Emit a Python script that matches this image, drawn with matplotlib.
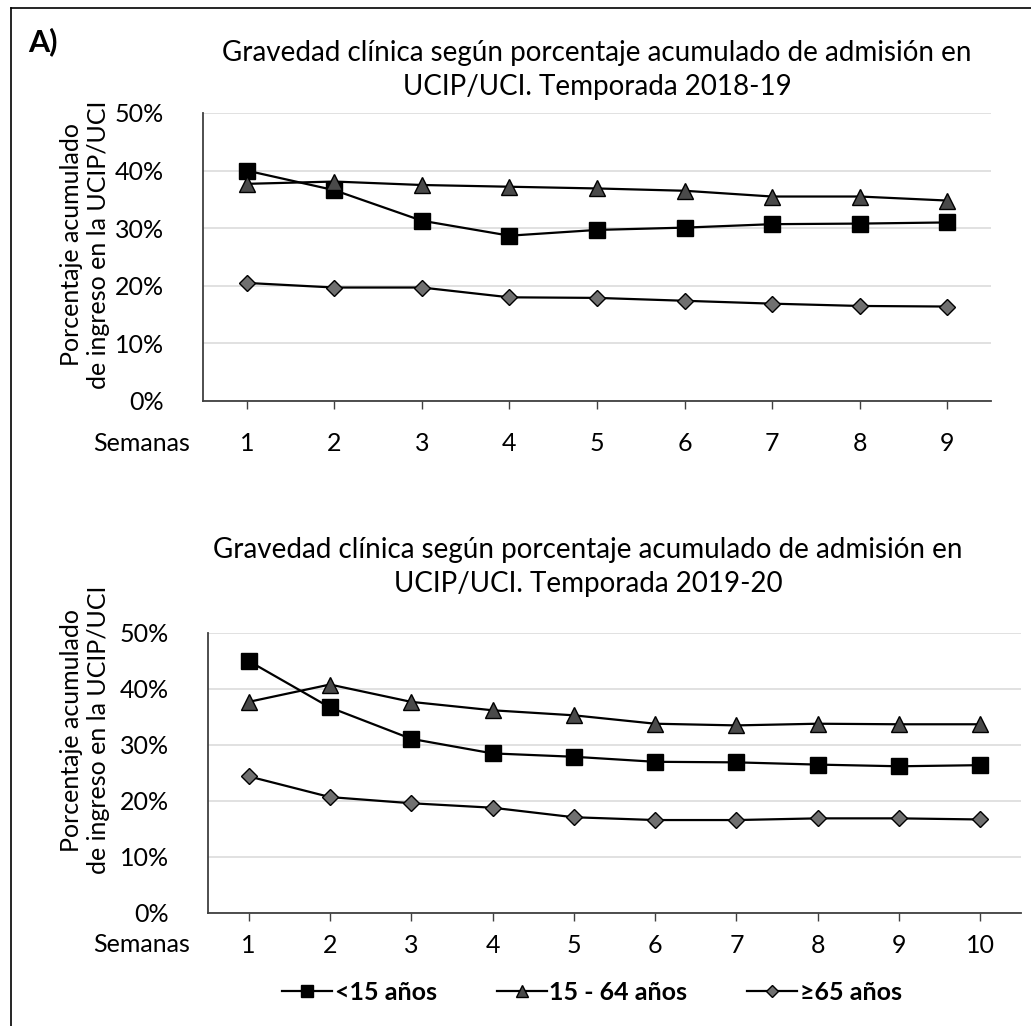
import matplotlib
matplotlib.use("Agg")
import matplotlib.pyplot as plt
from matplotlib.ticker import PercentFormatter
from matplotlib.lines import Line2D

plt.rcParams['font.family'] = ['Lato', 'DejaVu Sans']

weeks_1819 = [1, 2, 3, 4, 5, 6, 7, 8, 9]
lt15_1819 = [40.0, 36.6, 31.3, 28.7, 29.7, 30.1, 30.7, 30.8, 31.0]
a15_64_1819 = [37.7, 38.1, 37.5, 37.2, 36.9, 36.5, 35.5, 35.5, 34.8]
ge65_1819 = [20.5, 19.7, 19.7, 18.0, 17.9, 17.4, 16.9, 16.5, 16.4]

weeks_1920 = [1, 2, 3, 4, 5, 6, 7, 8, 9, 10]
lt15_1920 = [45.0, 36.7, 31.1, 28.5, 27.9, 27.0, 26.9, 26.5, 26.2, 26.4]
a15_64_1920 = [37.7, 40.8, 37.7, 36.2, 35.3, 33.8, 33.5, 33.8, 33.7, 33.7]
ge65_1920 = [24.4, 20.7, 19.6, 18.8, 17.1, 16.6, 16.6, 16.9, 16.9, 16.7]

series_labels = ['<15 años', '15 - 64 años', '≥65 años']
title_1819 = 'Gravedad clínica según porcentaje acumulado de admisión en\nUCIP/UCI. Temporada 2018-19'
title_1920 = 'Gravedad clínica según porcentaje acumulado de admisión en\nUCIP/UCI. Temporada 2019-20'
ylabel = 'Porcentaje acumulado\nde ingreso en la UCIP/UCI'

W, H = 1031, 1026
fig = plt.figure(figsize=(W / 100, H / 100), dpi=100)
FS = 18
TFS = 20

def px_axes(left, right, top, bottom):
    return fig.add_axes([left / W, 1 - bottom / H, (right - left) / W, (bottom - top) / H])

styles = [
    dict(marker='s', color='black', markerfacecolor='black', markeredgecolor='black', markersize=11),
    dict(marker='^', color='black', markerfacecolor='#4a4a4a', markeredgecolor='black', markersize=11),
    dict(marker='D', color='black', markerfacecolor='#707070', markeredgecolor='black', markersize=8),
]

def draw(ax, weeks, data, xpad):
    for vals, st in zip(data, styles):
        ax.plot(weeks, vals, linewidth=1.6, markeredgewidth=1.0, zorder=3, **st)
    ax.set_xlim(weeks[0] - 0.5, weeks[-1] + 0.5)
    ax.set_ylim(0, 50)
    ax.set_yticks([0, 10, 20, 30, 40, 50])
    ax.yaxis.set_major_formatter(PercentFormatter(decimals=0))
    ax.set_xticks(weeks)
    ax.grid(axis='y', color='#dcdcdc', linewidth=1.2)
    ax.set_axisbelow(True)
    for s in ['top', 'right']:
        ax.spines[s].set_visible(False)
    for s in ['left', 'bottom']:
        ax.spines[s].set_color('#404040')
        ax.spines[s].set_linewidth(1.3)
    ax.tick_params(axis='y', length=0, pad=28, labelsize=FS)
    ax.tick_params(axis='x', length=6, width=1.0, color='#404040', pad=xpad, labelsize=FS, direction='out')

ax1 = px_axes(203, 991, 113, 401)
draw(ax1, weeks_1819, [lt15_1819, a15_64_1819, ge65_1819], 16)
ax2 = px_axes(208, 1021, 633, 913)
draw(ax2, weeks_1920, [lt15_1920, a15_64_1920, ge65_1920], 9)

fig.text(597 / W, 1 - 70 / H, title_1819, ha='center', va='center', fontsize=TFS, linespacing=1.35)
fig.text(588 / W, 1 - 567 / H, title_1920, ha='center', va='center', fontsize=TFS, linespacing=1.35)
fig.text(85 / W, 1 - 245 / H, ylabel, ha='center', va='center', rotation=90, fontsize=FS, linespacing=1.2)
fig.text(85 / W, 1 - 730 / H, ylabel, ha='center', va='center', rotation=90, fontsize=FS, linespacing=1.2)
fig.text(190 / W, 1 - 443 / H, 'Semanas', ha='right', va='center', fontsize=FS)
fig.text(190 / W, 1 - 945 / H, 'Semanas', ha='right', va='center', fontsize=FS)
fig.text(28 / W, 1 - 42 / H, 'A)', ha='left', va='center', fontsize=22, fontweight='bold')

# frame lines
fig.add_artist(Line2D([11 / W, 11 / W], [0, 1 - 8 / H], color='black', linewidth=1.2))
fig.add_artist(Line2D([11 / W, 1], [1 - 8 / H, 1 - 8 / H], color='black', linewidth=1.2))

handles = [Line2D([], [], linewidth=1.6, markeredgewidth=1.0, **{**st, 'markersize': st['markersize'] * 0.8}) for st in styles]
leg = fig.legend(handles, series_labels, loc='center', bbox_to_anchor=(592 / W, 1 - 992 / H), ncol=3,
                 frameon=False, handlelength=2.0, columnspacing=2.4, handletextpad=0.1,
                 prop={'weight': 'bold', 'size': FS})

fig.savefig('out.png', dpi=100)
